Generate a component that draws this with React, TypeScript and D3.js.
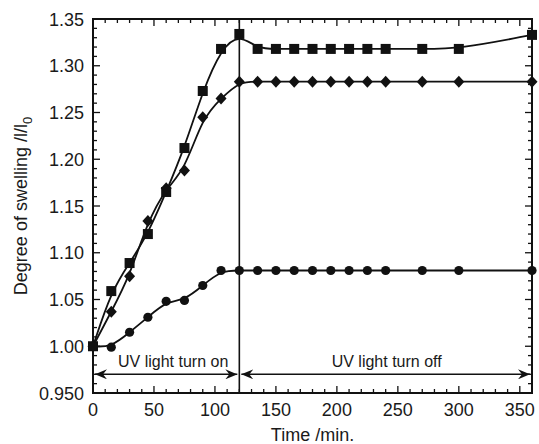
import { useRef, useEffect } from "react";
import * as d3 from "d3";

// time points (min)
const times = [0, 15, 30, 45, 60, 75, 90, 105, 120, 135, 150, 165, 180, 195, 210, 225, 240, 270, 300, 360];

// swelling degree l/l0
const squares = [1.0, 1.059, 1.089, 1.12, 1.165, 1.212, 1.273, 1.318, 1.334, 1.318, 1.318, 1.318, 1.318, 1.318, 1.318, 1.318, 1.318, 1.318, 1.318, 1.333];
const diamonds = [1.0, 1.037, 1.075, 1.134, 1.169, 1.188, 1.245, 1.265, 1.283, 1.283, 1.283, 1.283, 1.283, 1.283, 1.283, 1.283, 1.283, 1.283, 1.283, 1.283];
const circles = [1.0, 0.999, 1.015, 1.031, 1.048, 1.049, 1.065, 1.081, 1.081, 1.081, 1.081, 1.081, 1.081, 1.081, 1.081, 1.081, 1.081, 1.081, 1.081, 1.081];

const xTicks = [0, 50, 100, 150, 200, 250, 300, 350];
const yTicks = [0.95, 1.0, 1.05, 1.1, 1.15, 1.2, 1.25, 1.3, 1.35];
const yTickLabels = ["0.950", "1.00", "1.05", "1.10", "1.15", "1.20", "1.25", "1.30", "1.35"];

const uvSwitch = 120;
const arrowLevel = 0.97;

const App = () => {
	const svgRef = useRef(null);

	useEffect(() => {
		const W = 539;
		const H = 444;
		const m = { left: 93, right: 7, top: 19, bottom: 51 };
		const svg = d3.select(svgRef.current);
		svg.selectAll("*").remove();
		svg.attr("width", W).attr("height", H)
			.style("font-family", "'Liberation Sans', Arial, sans-serif");

		const x = d3.scaleLinear().domain([0, 360]).range([m.left, W - m.right]);
		const y = d3.scaleLinear().domain([0.95, 1.35]).range([H - m.bottom, m.top]);
		const [x0, x1] = x.range();
		const [y0, y1] = y.range();
		const ink = "#1a1a1a";

		// arrow marker
		svg.append("defs").append("marker")
			.attr("id", "arr")
			.attr("viewBox", "0 0 12 10")
			.attr("refX", 12)
			.attr("refY", 5)
			.attr("markerWidth", 12)
			.attr("markerHeight", 10)
			.attr("markerUnits", "userSpaceOnUse")
			.attr("orient", "auto-start-reverse")
			.append("path")
			.attr("d", "M0,0 L12,5 L0,10 L4,5 z")
			.attr("fill", "#111");

		// ticks, inward on all four sides
		const g = svg.append("g").attr("stroke", "#111").attr("stroke-width", 1.3);
		const xMinor = d3.range(0, 361, 10);
		xMinor.forEach((v) => {
			const len = v % 50 === 0 ? 7 : 4;
			g.append("line").attr("x1", x(v)).attr("x2", x(v)).attr("y1", y0).attr("y2", y0 - len);
			g.append("line").attr("x1", x(v)).attr("x2", x(v)).attr("y1", y1).attr("y2", y1 + len);
		});
		const yMinor = d3.range(0, 41).map((i) => 0.95 + i * 0.01);
		yMinor.forEach((v, i) => {
			const len = i % 5 === 0 ? 7 : 4;
			g.append("line").attr("y1", y(v)).attr("y2", y(v)).attr("x1", x0).attr("x2", x0 + len);
			g.append("line").attr("y1", y(v)).attr("y2", y(v)).attr("x1", x1).attr("x2", x1 - len);
		});

		// frame
		svg.append("rect")
			.attr("x", x0).attr("y", y1)
			.attr("width", x1 - x0).attr("height", y0 - y1)
			.attr("fill", "none").attr("stroke", "#111").attr("stroke-width", 2);

		// tick labels
		svg.append("g").selectAll("text").data(xTicks).join("text")
			.attr("x", (d) => x(d)).attr("y", y0 + 23)
			.attr("text-anchor", "middle").attr("font-size", 18).attr("fill", ink)
			.text((d) => d);
		svg.append("g").selectAll("text").data(yTicks).join("text")
			.attr("x", x0 - 9).attr("y", (d) => y(d) + 6.5)
			.attr("text-anchor", "end").attr("font-size", 18).attr("fill", ink)
			.text((d, i) => yTickLabels[i]);

		// axis titles
		svg.append("text")
			.attr("x", (x0 + x1) / 2).attr("y", 441)
			.attr("text-anchor", "middle").attr("font-size", 18).attr("fill", ink)
			.text("Time /min.");
		const yt = svg.append("text")
			.attr("transform", `translate(27, ${(y0 + y1) / 2}) rotate(-90)`)
			.attr("text-anchor", "middle").attr("font-size", 18).attr("fill", ink);
		yt.append("tspan").text("Degree of swelling /l/l");
		yt.append("tspan").attr("font-size", 13).attr("dy", 5).text("0");

		// UV switch line
		svg.append("line")
			.attr("x1", x(uvSwitch)).attr("x2", x(uvSwitch)).attr("y1", y1).attr("y2", y0)
			.attr("stroke", "#111").attr("stroke-width", 1.6);

		// arrows
		const ay = y(arrowLevel);
		svg.append("line")
			.attr("x1", x0 + 2).attr("x2", x(uvSwitch) - 2).attr("y1", ay).attr("y2", ay)
			.attr("stroke", "#111").attr("stroke-width", 1.5)
			.attr("marker-start", "url(#arr)").attr("marker-end", "url(#arr)");
		svg.append("line")
			.attr("x1", x(uvSwitch) + 2).attr("x2", x1 - 2).attr("y1", ay).attr("y2", ay)
			.attr("stroke", "#111").attr("stroke-width", 1.5)
			.attr("marker-start", "url(#arr)").attr("marker-end", "url(#arr)");
		svg.append("text")
			.attr("x", (x0 + x(uvSwitch)) / 2 + 7).attr("y", ay - 7)
			.attr("text-anchor", "middle").attr("font-size", 16).attr("fill", ink)
			.text("UV light turn on");
		svg.append("text")
			.attr("x", (x(uvSwitch) + x1) / 2 + 1).attr("y", ay - 7)
			.attr("text-anchor", "middle").attr("font-size", 16).attr("fill", ink)
			.text("UV light turn off");

		// fitted curves
		const line = d3.line()
			.x((d) => x(d[0]))
			.y((d) => y(d[1]))
			.curve(d3.curveBasis);
		const series = [squares, diamonds, circles];
		series.forEach((s) => {
			svg.append("path")
				.datum(times.map((t, i) => [t, s[i]]))
				.attr("fill", "none").attr("stroke", "#111").attr("stroke-width", 1.8)
				.attr("d", line);
		});

		// markers
		const pts = svg.append("g").attr("fill", "#111");
		times.forEach((t, i) => {
			pts.append("rect")
				.attr("x", x(t) - 5).attr("y", y(squares[i]) - 5)
				.attr("width", 10).attr("height", 10);
			const dx = x(t), dy = y(diamonds[i]);
			pts.append("path")
				.attr("d", `M${dx},${dy - 6} L${dx + 5.5},${dy} L${dx},${dy + 6} L${dx - 5.5},${dy} Z`);
			pts.append("circle").attr("cx", x(t)).attr("cy", y(circles[i])).attr("r", 4.6);
		});
	}, []);

	return (
		<div>
			<svg ref={svgRef} style={{ position: "absolute", left: 0, top: 0, display: "block" }}></svg>
		</div>
	);
};

export default App;
